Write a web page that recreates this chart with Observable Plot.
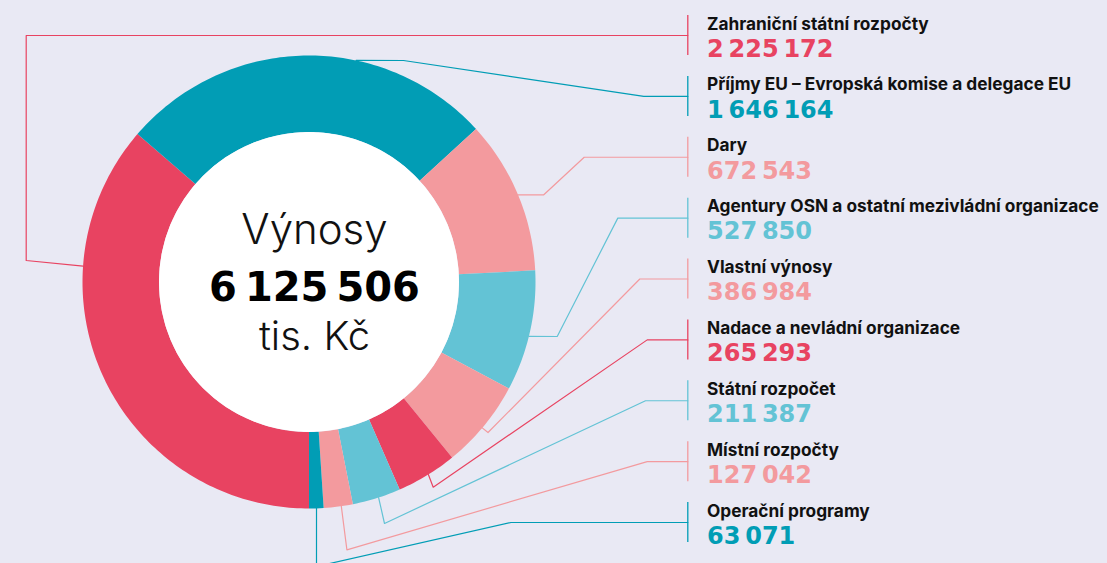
<!DOCTYPE html>
<html><head><meta charset="utf-8">
<script src="https://cdn.jsdelivr.net/npm/d3@7"></script>
<script src="https://cdn.jsdelivr.net/npm/@observablehq/plot@0.6"></script>
<style>
html,body{margin:0;padding:0;background:#e9e9f4;overflow:hidden;}
#chart svg{display:block;}
</style></head>
<body><div id="chart"></div>
<script>
// ---- data ----
const categories = [
  "Zahraniční státní rozpočty",
  "Příjmy EU – Evropská komise a delegace EU",
  "Dary",
  "Agentury OSN a ostatní mezivládní organizace",
  "Vlastní výnosy",
  "Nadace a nevládní organizace",
  "Státní rozpočet",
  "Místní rozpočty",
  "Operační programy"
];
const values = [2225172, 1646164, 672543, 527850, 386984, 265293, 211387, 127042, 63071];
const valueLabels = ["2\u2009225\u2009172", "1\u2009646\u2009164", "672\u2009543", "527\u2009850", "386\u2009984", "265\u2009293", "211\u2009387", "127\u2009042", "63\u2009071"];
const colors = ["#e84361", "#019db5", "#f39a9e", "#63c3d5", "#f39a9e", "#e84361", "#63c3d5", "#f39a9e", "#019db5"];
const centerTitle = "Výnosy";
const totalLabel = "6\u2009125\u2009506";
const centerUnit = "tis. Kč";

// ---- layout ----
const W = 1107, H = 563;
const bg = "#e9e9f4";
const cx = 308.5, cy = 281.5, R = 226.5, r0 = 150;
const textCx = 314;
const labelX = 706.5, barX = 687.3, labelTop0 = 15, labelStep = 60.875, barH = 40;
// leader routing: elbow points (null y => label middle) and ring touch angle (deg)
const leaderElbows = [
  [[25.7, null], [25.7, 260]],
  [[643.3, null], [403, 60]],
  [[583.7, null], [543.3, 194.3]],
  [[617.3, null], [556.7, 336]],
  [[639.3, null], [487.5, 432]],
  [[646.7, null], [432.7, 486.7]],
  [[645, null], [384, 523]],
  [[646.7, null], [346.4, 549.3]],
  [[510.5, null], [316, 566]]
];
const leaderAngles = [274, 12.0, 67.4, 103.9, 130.1, 148.2, 162.1, 171.8, 178.1];

const pt = (a, rad) => [cx + rad * Math.sin(a), cy - rad * Math.cos(a)];

const pie = d3.pie().sort(null).startAngle(Math.PI).endAngle(3 * Math.PI)(values);

const ringMarks = pie.map((s, i) => {
  const n = Math.max(2, Math.ceil((s.endAngle - s.startAngle) / (Math.PI / 180)) + 1);
  const pts = [];
  for (let k = 0; k < n; k++) { const a = s.startAngle + (s.endAngle - s.startAngle) * k / (n - 1); pts.push(pt(a, R)); }
  for (let k = n - 1; k >= 0; k--) { const a = s.startAngle + (s.endAngle - s.startAngle) * k / (n - 1); pts.push(pt(a, r0)); }
  return Plot.line(pts, {x: d => d[0], y: d => d[1], fill: colors[i], stroke: "none", curve: "linear-closed"});
});

const labelRows = categories.map((c, i) => {
  const top = labelTop0 + i * labelStep;
  return {name: c, value: valueLabels[i], color: colors[i], top, bottom: top + barH, mid: top + barH / 2};
});

const leaderMarks = labelRows.map((d, i) => {
  const pts = [[barX, d.mid]];
  leaderElbows[i].forEach(([x, y]) => pts.push([x, y == null ? d.mid : y]));
  pts.push(pt(leaderAngles[i] * Math.PI / 180, R));
  return Plot.line(pts, {x: p => p[0], y: p => p[1], stroke: colors[i], strokeWidth: 1.2, curve: "linear"});
});

const font = "Inter, Roboto, sans-serif";
const numFont = "'DejaVu Sans', Inter, sans-serif";

const chart = Plot.plot({
  width: W, height: H,
  margin: 0,
  x: {domain: [0, W], range: [0, W], axis: null},
  y: {domain: [0, H], range: [0, H], axis: null},
  style: {background: bg, fontFamily: font, overflow: "hidden"},
  marks: [
    ...leaderMarks,
    ...ringMarks,
    Plot.dot([{x: cx, y: cy}], {x: "x", y: "y", r: r0, fill: "white", stroke: "none"}),
    Plot.ruleX(labelRows, {x: () => barX, y1: "top", y2: "bottom", stroke: "color", strokeWidth: 1.3}),
    Plot.text(labelRows, {x: () => labelX, y: d => d.top + 14, text: "name", textAnchor: "start", lineAnchor: "bottom", fontSize: 17.3, fontWeight: 700, fill: "#111", fontFamily: font}),
    Plot.text(labelRows, {x: () => labelX, y: d => d.top + 41.3, text: "value", textAnchor: "start", lineAnchor: "bottom", fontSize: 24, fontWeight: 700, fill: "color", fontFamily: numFont, letterSpacing: "-1.6px"}),
    Plot.text([centerTitle], {x: () => textCx, y: () => 243.5, text: d => d, textAnchor: "middle", lineAnchor: "bottom", fontSize: 42, fontWeight: 300, fill: "#111", fontFamily: font}),
    Plot.text([totalLabel], {x: () => textCx, y: () => 300, text: d => d, textAnchor: "middle", lineAnchor: "bottom", fontSize: 40, fontWeight: 700, fill: "#000", fontFamily: numFont, letterSpacing: "0.4px"}),
    Plot.text([centerUnit], {x: () => textCx, y: () => 349.5, text: d => d, textAnchor: "middle", lineAnchor: "bottom", fontSize: 40, fontWeight: 300, fill: "#111", fontFamily: font, letterSpacing: "-1.5px"})
  ],
  color: {type: "identity"}
});
document.getElementById("chart").appendChild(chart);
</script>
</body></html>
